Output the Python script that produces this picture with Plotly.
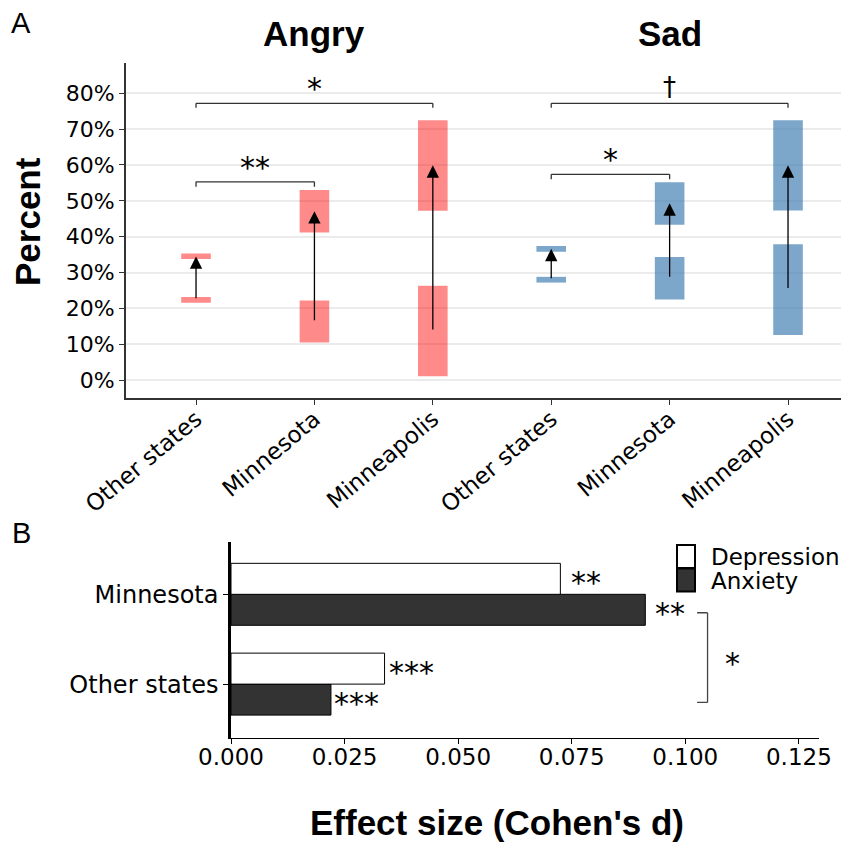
import plotly.graph_objects as go

# ---------------- data ----------------
regions = ["Other states", "Minnesota", "Minneapolis"]
emotions = ["Angry", "Sad"]

angry_pre_lo = [21.6, 10.5, 1.1]
angry_pre_hi = [23.2, 22.2, 26.3]
angry_post_lo = [33.8, 41.2, 47.2]
angry_post_hi = [35.3, 53.0, 72.5]
angry_pre_mean = [22.4, 16.3, 13.7]
angry_post_mean = [34.5, 47.1, 59.9]

sad_pre_lo = [27.2, 22.5, 12.6]
sad_pre_hi = [28.8, 34.3, 37.9]
sad_post_lo = [35.8, 43.3, 47.3]
sad_post_hi = [37.4, 55.2, 72.5]
sad_pre_mean = [28.0, 28.4, 25.3]
sad_post_mean = [36.6, 49.3, 59.9]

pct_ticks = [0, 10, 20, 30, 40, 50, 60, 70, 80]

b_categories = ["Other states", "Minnesota"]
depression_d = [0.0338, 0.0725]
anxiety_d = [0.0220, 0.0912]
depression_sig = ["***", "**"]
anxiety_sig = ["***", "**"]
b_ticks = [0.0, 0.025, 0.05, 0.075, 0.1, 0.125]
legend_names = ["Depression", "Anxiety"]
legend_fills = ["white", "#333333"]

# ---------------- layout helpers ----------------
OFF = 8  # page body margin
W, H = 849 - OFF, 842 - OFF
def px_x(p):
    return (p - OFF) / W
def px_y(p):
    return 1 - (p - OFF) / H

TICKFONT = dict(family="DejaVu Sans", size=22, color="black")
XTICKFONT = dict(family="DejaVu Sans", size=23, color="black")
BOLD = "Liberation Sans, Arial, sans-serif"
STAR = dict(family="DejaVu Sans", size=30, color="black")

fig = go.Figure()

red = "rgba(255,0,0,0.46)"
blue = "rgba(70,130,180,0.7)"

groups = [
    (angry_pre_lo, angry_pre_hi, angry_post_lo, angry_post_hi, angry_pre_mean, angry_post_mean, red, 0),
    (sad_pre_lo, sad_pre_hi, sad_post_lo, sad_post_hi, sad_pre_mean, sad_post_mean, blue, 1),
]

annotations = []
shapes = []

for pre_lo, pre_hi, post_lo, post_hi, pre_m, post_m, col, g in groups:
    xs = [g * 3 + i + 1 for i in range(len(regions))]
    for lo, hi in ((pre_lo, pre_hi), (post_lo, post_hi)):
        fig.add_trace(go.Bar(
            x=xs, y=[h - l for l, h in zip(lo, hi)], base=lo, width=0.25,
            offsetgroup="A",
            marker=dict(color=col, line=dict(width=0)),
            xaxis="x", yaxis="y", showlegend=False, hoverinfo="skip"))
    for x, a, b in zip(xs, pre_m, post_m):
        annotations.append(dict(
            x=x, y=b, ax=x, ay=a, xref="x", yref="y", axref="x", ayref="y",
            text="", showarrow=True, arrowhead=2, arrowsize=1.9,
            arrowwidth=1.3, arrowcolor="black"))

# brackets panel A
brackets = [(1, 3, 77.2, 76.0, "*", 81.3, 30), (1, 2, 55.3, 53.9, "**", 59.3, 30),
            (4, 6, 77.2, 76.0, "\u2020", 81.8, 26), (4, 5, 57.4, 56.0, "*", 61.5, 30)]
for x0, x1, yt, yb, lab, ylab, fs in brackets:
    for seg in ((x0, yb, x0, yt), (x0, yt, x1, yt), (x1, yt, x1, yb)):
        shapes.append(dict(type="line", xref="x", yref="y",
                           x0=seg[0], y0=seg[1], x1=seg[2], y1=seg[3],
                           line=dict(color="#333333", width=1.3)))
    annotations.append(dict(x=(x0 + x1) / 2, y=ylab, xref="x", yref="y",
                            text=lab, showarrow=False,
                            xanchor="center", yanchor="middle",
                            font=dict(family="DejaVu Sans", size=fs, color="black")))

def label(x, y, text, size, family=BOLD, angle=0, xanchor="center"):
    annotations.append(dict(x=px_x(x), y=px_y(y), xref="paper", yref="paper",
                            text=text, showarrow=False, textangle=angle,
                            xanchor=xanchor, yanchor="middle",
                            font=dict(family=family, size=size, color="black")))

# titles
for i, em in enumerate(emotions):
    annotations.append(dict(x=i * 3 + 2, y=px_y(33), xref="x", yref="paper",
                            text="<b>%s</b>" % em, showarrow=False,
                            xanchor="center", yanchor="middle",
                            font=dict(family=BOLD, size=35, color="black")))
label(28, 222, "<b>Percent</b>", 35, angle=-90)
label(496.5, 822, "<b>Effect size (Cohen's d)</b>", 35)
label(21, 23, "A", 29, family="Liberation Sans")
label(21, 533, "B", 29, family="Liberation Sans")

# ---------------- panel B ----------------
fig.add_trace(go.Bar(
    y=b_categories, x=anxiety_d, orientation="h", name="Anxiety",
    marker=dict(color="#333333", line=dict(color="black", width=1)),
    xaxis="x2", yaxis="y2", hoverinfo="skip", showlegend=False))
fig.add_trace(go.Bar(
    y=b_categories, x=depression_d, orientation="h", name="Depression",
    marker=dict(color="white", line=dict(color="black", width=1)),
    xaxis="x2", yaxis="y2", hoverinfo="skip", showlegend=False))

off = 0.173 * 89.7
for i, c in enumerate(b_categories):
    annotations.append(dict(x=depression_d[i], y=c, xref="x2", yref="y2",
                            text=depression_sig[i], showarrow=False,
                            xanchor="left", yanchor="middle",
                            xshift=[2, 9][i], yshift=off - 4,
                            font=STAR))
    annotations.append(dict(x=anxiety_d[i], y=c, xref="x2", yref="y2",
                            text=anxiety_sig[i], showarrow=False,
                            xanchor="left", yanchor="middle",
                            xshift=[1, 8][i], yshift=-off - 4,
                            font=STAR))

# bracket panel B
bx, bx0, byt, byb = 0.1049, 0.1026, 0.795, -0.204
for seg in ((bx0, byt, bx, byt), (bx, byt, bx, byb), (bx, byb, bx0, byb)):
    shapes.append(dict(type="line", xref="x2", yref="y2",
                       x0=seg[0], y0=seg[1], x1=seg[2], y1=seg[3],
                       line=dict(color="#444444", width=1.3)))
annotations.append(dict(x=0.1103, y=0.23, xref="x2", yref="y2", text="*",
                        showarrow=False, xanchor="center", yanchor="middle",
                        font=STAR))

# manual legend (boxes + labels)
for k, (nm, fill) in enumerate(zip(legend_names, legend_fills)):
    top = 545 + 23.5 * k
    shapes.append(dict(type="rect", xref="paper", yref="paper",
                       x0=px_x(677), x1=px_x(695), y0=px_y(top + 23), y1=px_y(top),
                       fillcolor=fill, line=dict(color="black", width=2)))
    label(709, top + 12, nm, 23, family="DejaVu Sans", xanchor="left")

fig.update_layout(
    template="none",
    width=W, height=H,
    margin=dict(l=0, r=0, t=0, b=0, pad=0),
    paper_bgcolor="white", plot_bgcolor="white",
    barmode="group", bargap=0.31, bargroupgap=0,
    showlegend=False,
    xaxis=dict(domain=[px_x(125.7), 1.0], range=[0.406, 6.515],
               tickvals=[1, 2, 3, 4, 5, 6], ticktext=regions + regions,
               tickangle=-40, ticks="outside", ticklen=5, tickcolor="#333333",
               showline=True, linecolor="#333333", linewidth=1.5,
               showgrid=False, zeroline=False, tickfont=XTICKFONT, anchor="y",
               automargin=False, ticklabelstandoff=-8),
    yaxis=dict(domain=[px_y(398), px_y(63)], range=[-5, 88.45],
               tickvals=pct_ticks, ticktext=["%d%%" % v for v in pct_ticks],
               ticks="outside", ticklen=5, tickcolor="#333333",
               showline=True, linecolor="#333333", linewidth=1.5,
               showgrid=True, gridcolor="#ebebeb", gridwidth=1.5,
               zeroline=False, tickfont=TICKFONT, anchor="x", automargin=False),
    xaxis2=dict(domain=[px_x(231), px_x(819.3)], range=[0, 0.1295],
                tickvals=b_ticks, ticktext=["%.3f" % v for v in b_ticks],
                ticks="outside", ticklen=5, tickcolor="black",
                showline=True, linecolor="black", linewidth=1.3,
                showgrid=False, zeroline=False,
                tickfont=dict(family="DejaVu Sans", size=23, color="black"),
                anchor="y2", automargin=False, ticklabelstandoff=-7),
    yaxis2=dict(domain=[px_y(738), px_y(541.7)], range=[-0.6, 1.586],
                type="category", categoryorder="array", categoryarray=b_categories,
                ticks="outside", ticklen=5, tickcolor="black",
                showline=True, linecolor="black", linewidth=2.5,
                showgrid=False, zeroline=False,
                tickfont=dict(family="DejaVu Sans", size=24, color="black"),
                anchor="x2", automargin=False),
    annotations=annotations, shapes=shapes,
)

fig.write_html("out.html")
